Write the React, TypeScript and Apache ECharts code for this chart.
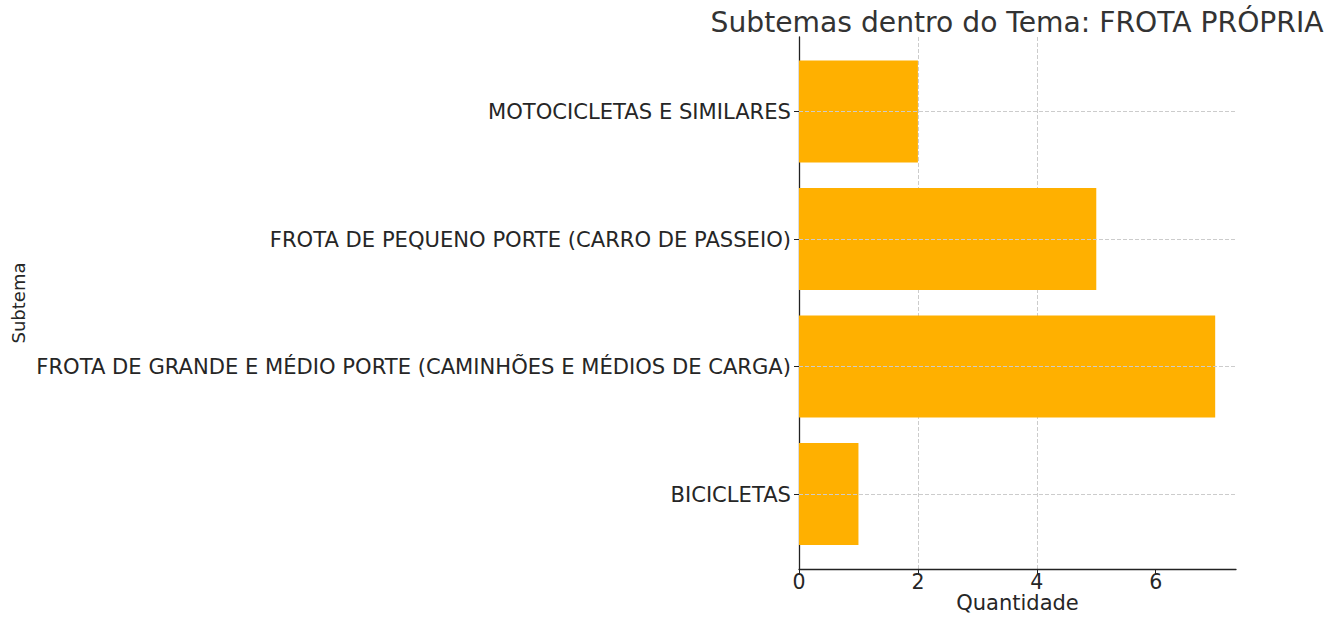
import React, { useEffect, useRef } from "react";
import * as echarts from "echarts";

const categories = [
  "BICICLETAS",
  "FROTA DE GRANDE E MÉDIO PORTE (CAMINHÕES E MÉDIOS DE CARGA)",
  "FROTA DE PEQUENO PORTE (CARRO DE PASSEIO)",
  "MOTOCICLETAS E SIMILARES",
];
const values = [1, 7, 5, 2];
const xTicks = [0, 2, 4, 6];
const titleText = "Subtemas dentro do Tema: FROTA PRÓPRIA";
const xName = "Quantidade";
const yName = "Subtema";

const FONT = "DejaVu Sans";
const TEXT = "#262626";
const AXIS = "#222222";
const GRID = "#cccccc";

export default function App() {
  const ref = useRef<HTMLDivElement>(null);
  useEffect(() => {
    if (!ref.current) return;
    const chart = echarts.init(ref.current, undefined, { renderer: "svg" });
    const left = 799;
    const width = 437;
    const xMax = 7.35;
    chart.setOption({
      animation: false,
      backgroundColor: "#ffffff",
      title: {
        text: titleText,
        left: 1012,
        top: 3,
        textAlign: "center",
        textStyle: { fontFamily: FONT, fontSize: 28.2, fontWeight: "normal", color: "#333333" },
      },
      grid: [
        { left, top: 37, width, height: 532, outerBoundsMode: "none", containLabel: false },
        { left, top: 47.75, width, height: 510, outerBoundsMode: "none", containLabel: false },
      ],
      xAxis: [
        {
          gridIndex: 0,
          type: "value",
          min: 0,
          max: xMax,
          interval: 2,
          name: xName,
          nameLocation: "middle",
          nameGap: 25,
          nameMoveOverlap: false,
          nameTextStyle: { fontFamily: FONT, fontSize: 21, lineHeight: 18, color: TEXT },
          axisLine: { show: true, onZero: false, lineStyle: { color: AXIS, width: 1.3 } },
          axisTick: { show: true, length: 5, lineStyle: { color: AXIS }, customValues: xTicks },
          axisLabel: {
            fontFamily: FONT,
            fontSize: 20.5,
            lineHeight: 18,
            color: TEXT,
            margin: 4,
            customValues: xTicks,
          },
          splitLine: {
            show: true,
            showMinLine: false,
            showMaxLine: false,
            lineStyle: { color: GRID, type: [4, 2], width: 1 },
          },
        },
        {
          gridIndex: 1,
          type: "value",
          min: 0,
          max: xMax,
          show: false,
        },
      ],
      yAxis: [
        {
          gridIndex: 0,
          type: "value",
          min: -0.59,
          max: 3.59,
          name: yName,
          nameLocation: "middle",
          nameGap: 772,
          nameRotate: 90,
          nameMoveOverlap: false,
          nameTextStyle: { fontFamily: FONT, fontSize: 18, color: TEXT },
          axisLine: { show: true, onZero: false, lineStyle: { color: AXIS, width: 1.3 } },
          axisTick: { show: false },
          axisLabel: { show: false },
          splitLine: { show: false },
        },
        {
          gridIndex: 1,
          type: "category",
          data: categories,
          axisLine: { show: false },
          axisTick: { show: true, alignWithLabel: true, length: 5, lineStyle: { color: AXIS } },
          axisLabel: { fontFamily: FONT, fontSize: 21.1, color: TEXT, margin: 8 },
          splitLine: { show: false },
        },
      ],
      series: [
        {
          type: "line",
          xAxisIndex: 1,
          yAxisIndex: 1,
          data: [],
          z: 1,
          silent: true,
          markLine: {
            silent: true,
            symbol: "none",
            label: { show: false },
            lineStyle: { color: GRID, type: [4, 2], width: 1 },
            data: categories.map((c) => ({ yAxis: c })),
          },
        },
        {
          type: "bar",
          xAxisIndex: 1,
          yAxisIndex: 1,
          data: values,
          barWidth: "80%",
          z: 3,
          itemStyle: { color: "#FFB000" },
        },
      ],
    });
    return () => chart.dispose();
  }, []);
  return (
    <div
      ref={ref}
      style={{ position: "fixed", left: 0, top: 0, width: 1333, height: 618 }}
    />
  );
}
